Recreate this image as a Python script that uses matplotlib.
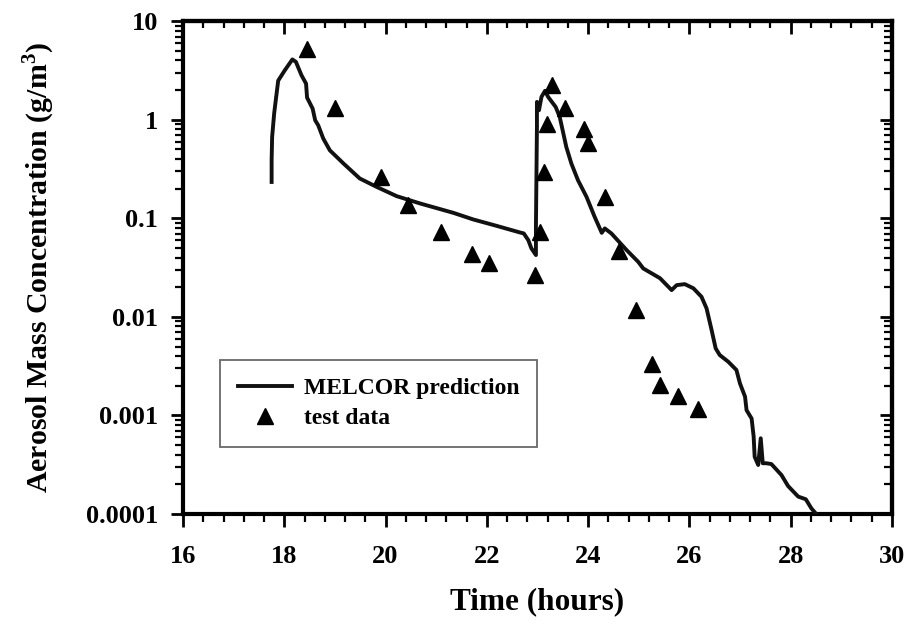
import matplotlib
matplotlib.use("Agg")
import matplotlib.pyplot as plt
import matplotlib.ticker as mticker

plt.rcParams['font.family'] = ['Liberation Serif', 'DejaVu Serif']
plt.rcParams['font.weight'] = 'bold'
plt.rcParams['mathtext.fontset'] = 'custom'
plt.rcParams['mathtext.rm'] = 'Liberation Serif:bold'
plt.rcParams['mathtext.bf'] = 'Liberation Serif:bold'

# MELCOR prediction curve
melcor_t = [17.75, 17.75, 17.76, 17.80, 17.84, 17.88, 18.01, 18.16, 18.23, 18.34, 18.43,
            18.45, 18.56, 18.61, 18.67, 18.77, 18.90, 19.17, 19.49, 19.82, 20.22, 20.68,
            21.34, 21.73, 22.19, 22.65, 22.73, 22.82, 22.88, 22.97, 22.97, 22.98, 22.99,
            22.99, 23.03, 23.08, 23.15, 23.21, 23.36, 23.44, 23.57, 23.67, 23.80, 23.97,
            24.13, 24.27, 24.33, 24.46, 24.76, 24.99, 25.09, 25.42, 25.65, 25.75, 25.91,
            26.08, 26.24, 26.34, 26.44, 26.52, 26.60, 26.77, 26.93, 27.00, 27.10, 27.13,
            27.23, 27.27, 27.29, 27.36, 27.41, 27.45, 27.52, 27.62, 27.82, 27.95, 28.15,
            28.30, 28.41, 28.51]
melcor_c = [0.234, 0.39, 0.67, 1.16, 1.71, 2.5, 3.18, 4.1, 3.87, 2.83, 2.33,
            1.68, 1.30, 0.99, 0.88, 0.645, 0.49, 0.36, 0.254, 0.209, 0.168, 0.1417,
            0.1137, 0.0975, 0.084, 0.072, 0.0703, 0.060, 0.0496, 0.0424, 0.082, 0.264, 0.847,
            1.52, 1.25, 1.71, 1.97, 1.71, 1.35, 1.07, 0.53, 0.36, 0.244, 0.165,
            0.1035, 0.0713, 0.079, 0.0703, 0.0477, 0.0362, 0.031, 0.0247, 0.0187, 0.021, 0.0215,
            0.0195, 0.016, 0.0122, 0.00734, 0.00479, 0.0041, 0.0035, 0.00289, 0.00211, 0.00155, 0.00113,
            0.00093, 0.00061, 0.00038, 0.000314, 0.000586, 0.000327, 0.000327, 0.000321, 0.000248, 0.000192, 0.00015,
            0.000141, 0.000114, 0.0000993]

# Test data
test_t = [18.44, 19.01, 19.92, 20.45, 21.09, 21.70, 22.05, 22.95, 23.05, 23.13, 23.19,
          23.29, 23.55, 23.92, 24.00, 24.33, 24.62, 24.94, 25.27, 25.42, 25.77, 26.17]
test_c = [5.2, 1.31, 0.26, 0.138, 0.072, 0.043, 0.0349, 0.0264, 0.072, 0.294, 0.90,
          2.26, 1.33, 0.80, 0.58, 0.163, 0.0468, 0.01164, 0.0033, 0.00202, 0.00156, 0.00117]

series_labels = ['MELCOR prediction', 'test data']
x_label = 'Time (hours)'
y_label = r'Aerosol Mass Concentration (g/m$^{\mathbf{3}}$)'
x_ticks = [16, 18, 20, 22, 24, 26, 28, 30]
y_ticks = [0.0001, 0.001, 0.01, 0.1, 1, 10]

fig = plt.figure(figsize=(9.11, 6.26), dpi=100)
ax = fig.add_axes([0.2009, 0.179, 0.7781, 0.787])

ax.plot(melcor_t, melcor_c, color='#111111', lw=2.8, label=series_labels[0], zorder=3)
ax.plot(test_t, test_c, linestyle='none', marker='^', color='black', ms=12,
        label=series_labels[1], zorder=4)

ax.set_yscale('log')
ax.set_xlim(16, 30)
ax.set_ylim(1e-4, 10)

ax.set_xticks(x_ticks)
ax.xaxis.set_minor_locator(mticker.MultipleLocator(0.4))
ax.set_yticks(y_ticks)
ax.yaxis.set_major_formatter(mticker.FuncFormatter(lambda v, _: f'{v:g}'))
ax.yaxis.set_minor_locator(mticker.LogLocator(base=10, subs=range(2, 10), numticks=20))
ax.yaxis.set_minor_formatter(mticker.NullFormatter())

for sp in ax.spines.values():
    sp.set_linewidth(3)

ax.tick_params(which='major', direction='out', length=9, width=2, labelsize=19)
ax.tick_params(axis='x', which='major', pad=13)
ax.tick_params(axis='y', which='major', pad=9)
ax.tick_params(which='minor', direction='out', length=6, width=1.6)
for lab in ax.get_xticklabels() + ax.get_yticklabels():
    lab.set_fontweight('bold')

# top and right ticks pointing inward
secx = ax.secondary_xaxis('top')
secx.set_xticks(x_ticks)
secx.xaxis.set_minor_locator(mticker.MultipleLocator(0.4))
secx.tick_params(which='major', direction='in', length=9, width=2, labeltop=False)
secx.tick_params(which='minor', direction='in', length=5, width=1.6)
secx.spines['top'].set_linewidth(3)

secy = ax.secondary_yaxis('right')
secy.set_yticks(y_ticks)
secy.yaxis.set_minor_locator(mticker.LogLocator(base=10, subs=range(2, 10), numticks=20))
secy.yaxis.set_minor_formatter(mticker.NullFormatter())
secy.tick_params(which='major', direction='in', length=9, width=2, labelright=False)
secy.tick_params(which='minor', direction='in', length=6, width=1.6)
secy.spines['right'].set_linewidth(3)

ax.set_xlabel(x_label, fontsize=22.5, fontweight='bold', labelpad=14)
ax.set_ylabel(y_label, fontsize=21.5, fontweight='bold', labelpad=21)

leg = ax.legend(loc='upper left', bbox_to_anchor=(0.052, 0.312), borderaxespad=0,
                frameon=True, fancybox=False,
                prop={'weight': 'bold', 'size': 17}, handlelength=2.3, borderpad=0.75,
                labelspacing=0.35, handletextpad=0.5, edgecolor='#444444')
leg.get_frame().set_linewidth(1.3)

fig.savefig('out.png', dpi=100)
